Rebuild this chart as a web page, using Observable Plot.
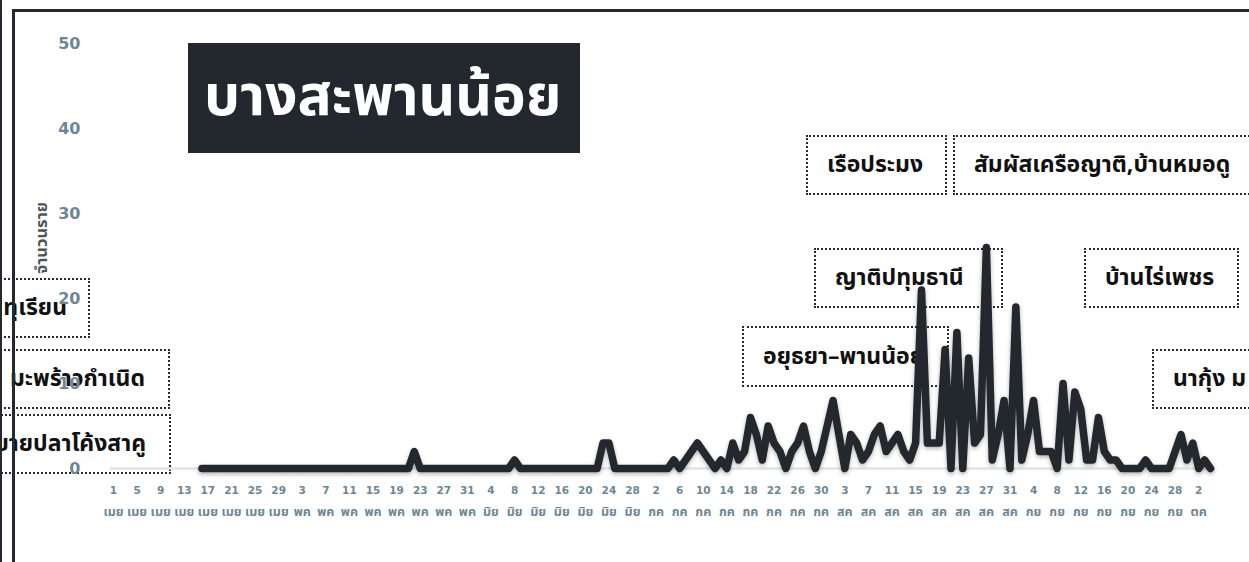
<!DOCTYPE html>
<html>
<head>
<meta charset="utf-8">
<script src="https://cdn.jsdelivr.net/npm/d3@7"></script>
<script src="https://cdn.jsdelivr.net/npm/@observablehq/plot@0.6"></script>
<style>
  body { margin: 0; background: #fff; overflow: hidden; }
  #wrap { position: relative; width: 1249px; height: 562px; overflow: hidden;
          font-family: "Noto Sans Thai", "Noto Sans", "Liberation Sans", sans-serif; }
  #chart { position: absolute; left: 0; top: 0; z-index: 2; }
  .edge { position: absolute; left: 0; top: 0; width: 2px; height: 562px; background: #23292e; z-index: 4; }
  .frame { position: absolute; left: 12px; top: 9px; width: 1400px; height: 700px;
           border: 3px solid #23292e; box-sizing: border-box; z-index: 4; }
  .title { position: absolute; background: #22282d; color: #fff; font-weight: 700;
           display: flex; align-items: center; box-sizing: border-box; white-space: nowrap; z-index: 3; }
  .note { position: absolute; border: 2px dotted #2a2a2a; display: flex; align-items: center;
          font-weight: 700; color: #111; white-space: nowrap; box-sizing: border-box; z-index: 1; }
  g[aria-label="line"] path { filter: drop-shadow(0px 2px 2px rgba(0,0,0,0.3)); }
</style>
</head>
<body>
<div id="wrap"></div>
<script>
// ---------------- data ----------------
const firstDay = "2021-04-16";           // first day of the series
const domainStart = "2021-04-01";
const domainEnd = "2021-10-04";
// daily new cases, from 16 Apr onward
const cases = [
  0,0,0,0,0,0,0,0,0,0, 0,0,0,0,0,0,0,0,0,0, 0,0,0,0,0,0,0,0,0,0, 0,0,0,0,0,0, // 16 Apr - 21 May
  2,                                                                            // 22 May
  0,0,0,0,0,0,0,0,0,0,0,0,0,0,0,0,                                              // 23 May - 7 Jun
  1,                                                                            // 8 Jun
  0,0,0,0,0,0,0,0,0,0,0,0,0,0,                                                  // 9 Jun - 22 Jun
  3,3,                                                                          // 23-24 Jun
  0,0,0,0,0,0,0,0,0,0,                                                          // 25 Jun - 4 Jul
  1,0,1,2,3,2,1,0,1,0,                                                          // 5 - 14 Jul
  3,1,2,6,4,1,5,3,2,0,                                                          // 15 - 24 Jul
  2,3,5,2,0,2,5,8,4,0,                                                          // 25 Jul - 3 Aug
  4,3,1,2,4,5,2,3,4,2,                                                          // 4 - 13 Aug
  1,3,21,3,3,3,14,0,16,0,                                                       // 14 - 23 Aug
  13,3,4,26,1,4,8,0,19,1,                                                       // 24 Aug - 2 Sep
  4,8,2,2,2,0,10,1,9,7,                                                         // 3 - 12 Sep
  1,1,6,2,1,1,0,0,0,0,                                                          // 13 - 22 Sep
  1,0,0,0,0,2,4,1,3,0,                                                          // 23 Sep - 2 Oct
  1,0                                                                           // 3 - 4 Oct
];
const monthAbbr = ["มค","กพ","มีค","เมย","พค","มิย","กค","สค","กย","ตค","พย","ธค"];
const yTicks = [0, 10, 20, 30, 40, 50];
const yLabel = "จำนวนราย";
const titleText = "บางสะพานน้อย";
const noteTexts = [
  "ทุเรียน",
  "มะพร้าวกำเนิด",
  "ขายปลาโค้งสาคู",
  "อยุธยา–พานน้อย",
  "ญาติปทุมธานี",
  "เรือประมง",
  "สัมผัสเครือญาติ,บ้านหมอดู",
  "บ้านไร่เพชร",
  "นากุ้ง ม"
];

// ---------------- layout (pixels) ----------------
const noteLayout = [
  {left: -60, top: 278, width: 150, height: 60, align: "right", pad: 21},
  {left: -60, top: 349, width: 230, height: 60, align: "right", pad: 23},
  {left: -60, top: 414, width: 231, height: 60, align: "right", pad: 23},
  {left: 742, top: 326, width: 207, height: 61, align: "left", pad: 19},
  {left: 814, top: 248, width: 189, height: 60, align: "left", pad: 19},
  {left: 806, top: 135, width: 141, height: 60, align: "left", pad: 19},
  {left: 953, top: 135, width: 320, height: 60, align: "left", pad: 19},
  {left: 1084, top: 248, width: 155, height: 60, align: "left", pad: 19},
  {left: 1152, top: 349, width: 150, height: 60, align: "left", pad: 19}
];

const parse = d3.utcParse("%Y-%m-%d");
const start = parse(firstDay);
const rows = cases.map((v, i) => ({date: d3.utcDay.offset(start, i), value: v}));
const x0 = parse(domainStart), x1 = parse(domainEnd);
const tickDates = d3.utcDay.range(x0, d3.utcDay.offset(x1, -1), 4);

const tickColor = "#6b8796";
const chart = Plot.plot({
  width: 1249,
  height: 562,
  marginTop: 43,
  marginBottom: 94,
  marginLeft: 113,
  marginRight: 39,
  style: {background: "transparent", fontFamily: "'DejaVu Sans', 'Noto Sans Thai', sans-serif"},
  x: {type: "utc", domain: [x0, x1]},
  y: {domain: [0, 50]},
  marks: [
    Plot.ruleY([0], {stroke: "#dfe4e7", strokeWidth: 2.5, insetLeft: -3, insetRight: -2}),
    Plot.axisY({ticks: yTicks, tickSize: 0, tickPadding: 33, fontSize: 16, fontWeight: "bold",
                fill: tickColor, label: null}),
    Plot.axisX({ticks: tickDates, tickSize: 0, tickPadding: 18, fontSize: 10.5, fontWeight: "bold",
                fill: tickColor, label: null,
                tickFormat: d => `${d.getUTCDate()}`}),
    Plot.axisX({ticks: tickDates, tickSize: 0, tickPadding: 39, fontSize: 12.5, fontWeight: "bold",
                fill: tickColor, label: null, fontFamily: "'Noto Sans Thai', sans-serif",
                tickFormat: d => monthAbbr[d.getUTCMonth()]}),
    Plot.text([yLabel], {frameAnchor: "left", textAnchor: "middle", rotate: -90, dx: -72, dy: -18,
                         fontSize: 16.5, fontWeight: "bold", fill: "#4a555c",
                         fontFamily: "'Noto Sans Thai', sans-serif"}),
    Plot.line(rows, {x: "date", y: "value", stroke: "#22282d", strokeWidth: 7.5,
                     strokeLinejoin: "round", strokeLinecap: "round"})
  ]
});

const wrap = document.getElementById("wrap");
chart.id = "chart";
wrap.appendChild(chart);

noteTexts.forEach((t, i) => {
  const L = noteLayout[i];
  const d = document.createElement("div");
  d.className = "note";
  Object.assign(d.style, {
    left: L.left + "px", top: L.top + "px", width: L.width + "px", height: L.height + "px",
    justifyContent: L.align === "right" ? "flex-end" : "flex-start",
    paddingLeft: L.align === "left" ? L.pad + "px" : "0",
    paddingRight: L.align === "right" ? L.pad + "px" : "0",
    fontSize: "23px"
  });
  d.textContent = t;
  wrap.appendChild(d);
});

const title = document.createElement("div");
title.className = "title";
Object.assign(title.style, {left: "188px", top: "43px", width: "392px", height: "110px",
  paddingLeft: "16px", fontSize: "57px"});
title.textContent = titleText;
wrap.appendChild(title);

const edge = document.createElement("div"); edge.className = "edge"; wrap.appendChild(edge);
const frame = document.createElement("div"); frame.className = "frame"; wrap.appendChild(frame);
</script>
</body>
</html>
